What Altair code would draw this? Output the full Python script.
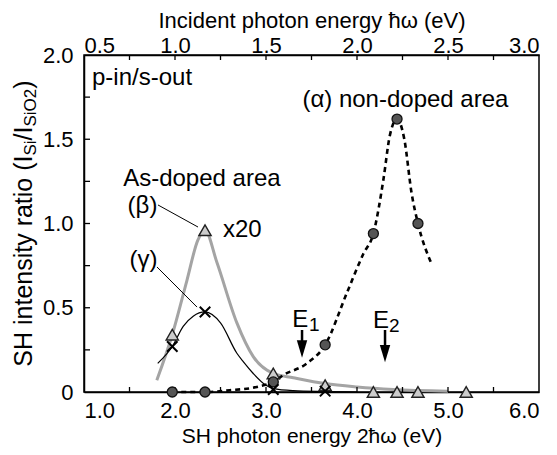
import altair as alt
import pandas as pd

# ---------------- data ----------------
sh_energy_alpha = [1.97, 2.33, 3.08, 3.65, 4.18, 4.44, 4.67]
ratio_alpha = [0.0, 0.0, 0.06, 0.28, 0.94, 1.62, 1.00]

sh_energy_beta = [1.97, 2.33, 3.08, 3.65, 4.18, 4.44, 4.67, 5.20]
ratio_beta = [0.34, 0.96, 0.11, 0.04, 0.0, 0.0, 0.0, 0.0]

sh_energy_gamma = [1.97, 2.33, 3.08, 3.65]
ratio_gamma = [0.27, 0.475, 0.015, 0.005]

fit_alpha_x = [1.97, 2.33, 2.60, 2.90, 3.08, 3.19, 3.45, 3.65, 3.89, 4.07, 4.18,
               4.29, 4.36, 4.44, 4.52, 4.60, 4.67, 4.82]
fit_alpha_y = [0.0, 0.0, 0.01, 0.03, 0.06, 0.10, 0.17, 0.28, 0.59, 0.82, 0.94,
               1.26, 1.52, 1.62, 1.50, 1.18, 1.00, 0.76]

fit_beta_x = [1.80, 1.97, 2.13, 2.25, 2.33, 2.46, 2.68, 2.86, 3.08, 3.30, 3.65,
              4.00, 4.40, 5.00]
fit_beta_y = [0.07, 0.34, 0.66, 0.90, 0.96, 0.77, 0.41, 0.21, 0.11, 0.085, 0.05,
              0.03, 0.015, 0.005]

fit_gamma_x = [1.81, 1.97, 2.09, 2.20, 2.33, 2.50, 2.68, 2.75, 2.86, 3.00, 3.08,
               3.30, 3.65, 4.00]
fit_gamma_y = [0.17, 0.27, 0.39, 0.45, 0.475, 0.41, 0.23, 0.18, 0.11, 0.04, 0.02,
               0.008, 0.003, 0.0]

x_labels = [1.0, 2.0, 3.0, 4.0, 5.0, 6.0]
x_ticks = [1.5, 2.0, 2.5, 3.0, 3.5, 4.0, 4.5, 5.0, 5.5]
y_labels = [0.0, 0.5, 1.0, 1.5, 2.0]
y_ticks = [0.25, 0.5, 0.75, 1.0, 1.25, 1.5, 1.75]
top_labels = [0.5, 1.0, 1.5, 2.0, 2.5, 3.0]          # incident photon energy (eV)
top_ticks = [0.75, 1.0, 1.25, 1.5, 1.75, 2.0, 2.25, 2.5, 2.75]

# ---------------- layout ----------------
W, H = 455, 337
FONT = "Liberation Sans"
xs = alt.Scale(domain=[1, 6], nice=False, zero=False)
ys = alt.Scale(domain=[0, 2], nice=False, zero=False)

x_axis = alt.Axis(values=x_labels, format=".1f", ticks=False, grid=False,
                  labelPadding=25, labelBaseline="alphabetic",
                  title="SH photon energy 2ħω (eV)", titleY=50, titleFontSize=21,
                  titleBaseline="alphabetic")
y_axis = alt.Axis(values=y_labels, ticks=False, grid=False, labelPadding=11,
                  labelExpr="datum.value == 0 ? '0' : format(datum.value, '.1f')",
                  title="")
top_axis = alt.Axis(orient="top", values=[2 * v for v in top_labels],
                    labelExpr="format(datum.value / 2, '.1f')",
                    ticks=False, grid=False, labelPadding=3,
                    labelBaseline="alphabetic",
                    title="Incident photon energy ħω (eV)",
                    titleY=-28, titleBaseline="alphabetic")


def df(x, y):
    return pd.DataFrame({"x": x, "y": y})


def X():
    return alt.X("x:Q", scale=xs, axis=None)


def Y():
    return alt.Y("y:Q", scale=ys, axis=None)


# axis-carrying layers (invisible points at the labelled values)
x_axis_layer = alt.Chart(df(x_labels, [0.0] * 6)).mark_point(opacity=0).encode(
    x=alt.X("x:Q", scale=xs, axis=x_axis), y=Y())
y_axis_layer = alt.Chart(df([1.0] * 5, y_labels)).mark_point(opacity=0).encode(
    x=X(), y=alt.Y("y:Q", scale=ys, axis=y_axis))

# top axis (incident energy = SH energy / 2) with inward ticks
top_layer = alt.Chart(pd.DataFrame({"x": [2 * v for v in top_ticks]})).mark_rule(
    color="black", strokeWidth=1.3
).encode(x=alt.X("x:Q", scale=xs, axis=top_axis), y=alt.value(0), y2=alt.value(5))

beta_line = alt.Chart(df(fit_beta_x, fit_beta_y)).mark_line(
    color="#a4a4a4", strokeWidth=3, interpolate="monotone").encode(x=X(), y=Y())
gamma_line = alt.Chart(df(fit_gamma_x, fit_gamma_y)).mark_line(
    color="black", strokeWidth=1.2, interpolate="monotone").encode(x=X(), y=Y())
alpha_line = alt.Chart(df(fit_alpha_x, fit_alpha_y)).mark_line(
    color="black", strokeWidth=2.6, strokeDash=[5, 4], interpolate="monotone"
).encode(x=X(), y=Y())

beta_pts = alt.Chart(df(sh_energy_beta, ratio_beta)).mark_point(
    shape="triangle-up", filled=True, fill="#cccccc", stroke="#222222",
    strokeWidth=1.4, size=150, opacity=1).encode(x=X(), y=Y())
alpha_pts = alt.Chart(df(sh_energy_alpha, ratio_alpha)).mark_point(
    shape="circle", filled=True, fill="#555555", stroke="#111111",
    strokeWidth=1.3, size=100, opacity=1).encode(x=X(), y=Y())
gamma_pts = alt.Chart(df(sh_energy_gamma, ratio_gamma)).mark_point(
    shape="M-1,-1L1,1M-1,1L1,-1", filled=False, stroke="black",
    strokeWidth=2, size=110, opacity=1).encode(x=X(), y=Y())

# inward ticks
bx_ticks = alt.Chart(pd.DataFrame({"x": x_ticks})).mark_rule(
    color="black", strokeWidth=1.3).encode(x=X(), y=alt.value(H), y2=alt.value(H - 5))
ly_ticks = alt.Chart(pd.DataFrame({"y": y_ticks})).mark_rule(
    color="black", strokeWidth=1.3).encode(y=Y(), x=alt.value(0), x2=alt.value(6))


def XD(v):
    return alt.XDatum(v, scale=xs, axis=None)


def YD(v):
    return alt.YDatum(v, scale=ys, axis=None)


def text(s, x, y, size=24, align="left", baseline="alphabetic"):
    return alt.Chart().mark_text(
        text=s, font=FONT, fontSize=size, align=align, baseline=baseline,
        color="black").encode(x=XD(x), y=YD(y))


def leader(x1, y1, x2, y2, width=1.0):
    return alt.Chart().mark_rule(color="black", strokeWidth=width).encode(
        x=XD(x1), y=YD(y1), x2=alt.X2Datum(x2), y2=alt.Y2Datum(y2))


def arrow_head(x, y):
    return alt.Chart().mark_point(
        shape="M-0.6,-1L0.6,-1L0,1Z", filled=True, color="black", size=300,
        opacity=1).encode(x=XD(x), y=YD(y))


annotations = [
    text("p-in/s-out", 1.088, 1.822),
    text("(α) non-doped area", 3.40, 1.69),
    text("As-doped area", 1.43, 1.223),
    text("(β)", 1.643, 1.104, align="center", baseline="middle"),
    text("x20", 2.527, 0.92),
    text("(γ)", 1.654, 0.783, align="center", baseline="middle"),
    leader(1.813, 1.110, 2.253, 0.979),
    leader(1.802, 0.742, 2.242, 0.504),
    text("E", 3.289, 0.386),
    text("1", 3.473, 0.362, size=19),
    text("E", 4.176, 0.380),
    text("2", 4.352, 0.356, size=19),
    leader(3.396, 0.368, 3.396, 0.27, width=2.5),
    arrow_head(3.396, 0.255),
    leader(4.308, 0.368, 4.308, 0.25, width=2.5),
    arrow_head(4.308, 0.228),
]


# y-axis title built from pieces (for subscripts), rotated
def ytitle(s, ypix, size, xpix):
    return alt.Chart().mark_text(
        text=s, font=FONT, fontSize=size, align="left", baseline="alphabetic",
        angle=270, color="black").encode(x=alt.value(xpix), y=alt.value(ypix))


ytitle_parts = [
    ytitle("SH intensity ratio (I", 311.7, 25, -52),
    ytitle("Si", 100.5, 17, -48),
    ytitle("/I", 85.4, 25, -52),
    ytitle("SiO2", 71.5, 17, -48),
    ytitle(")", 33.7, 25, -52),
]

chart = alt.layer(
    x_axis_layer, y_axis_layer, top_layer, beta_line, gamma_line, alpha_line,
    bx_ticks, ly_ticks, beta_pts, alpha_pts, gamma_pts, *annotations, *ytitle_parts
).resolve_axis(x="independent", y="independent").properties(
    width=W, height=H,
    autosize=alt.AutoSizeParams(type="none"),
    padding={"left": 76, "top": 47, "right": 10, "bottom": 55},
).configure_view(stroke="black", strokeWidth=1.5).configure_axis(
    labelFont=FONT, titleFont=FONT, labelFontSize=22, titleFontSize=22,
    labelColor="black", titleColor="black", titleFontWeight="normal",
    domainColor="black", domainWidth=1.5,
)

chart.save("out.html", embed_options={"renderer": "svg", "actions": False})
